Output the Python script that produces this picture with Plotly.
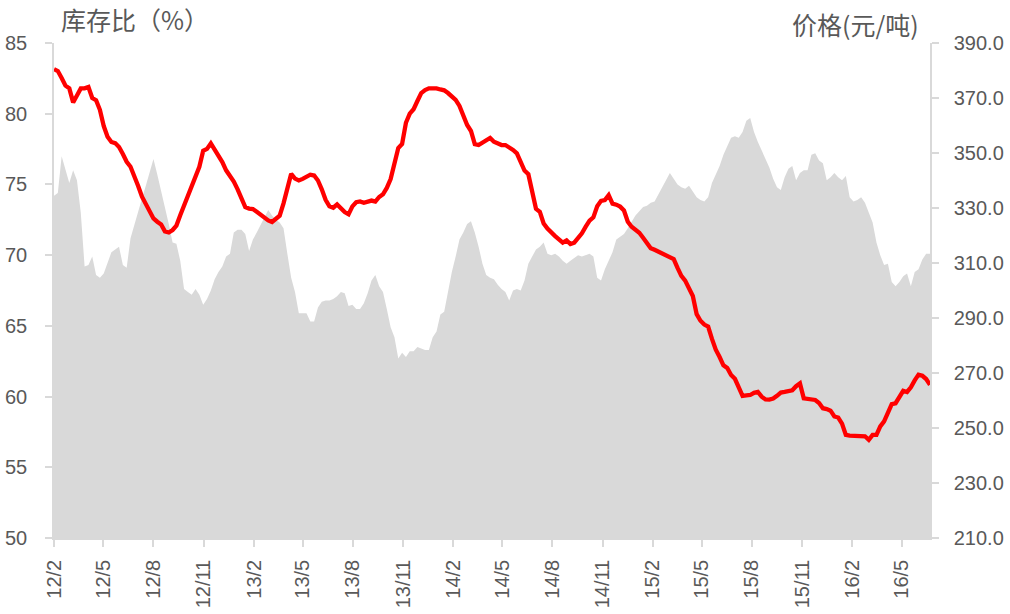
import pandas as pd
import plotly.graph_objects as go

# Weekly observations starting Feb 2012
start_date = "2012-02-01"

inventory_ratio = [
    74.2, 74.4, 77.0, 76.0, 75.1, 76.0, 75.3, 73.0, 69.2, 69.3,
    69.9, 68.6, 68.4, 68.7, 69.4, 70.2, 70.4, 70.6, 69.3, 69.1,
    71.2, 72.2, 73.1, 74.0, 74.9, 75.9, 76.8, 75.7, 74.6, 73.5,
    72.2, 70.9, 70.8, 69.6, 67.6, 67.4, 67.2, 67.6, 67.2, 66.5,
    66.9, 67.5, 68.3, 68.8, 69.2, 69.9, 70.1, 71.6, 71.8, 71.8,
    71.5, 70.3, 71.1, 71.6, 72.1, 72.7, 73.2, 72.8, 72.5, 72.3,
    71.9, 70.1, 68.4, 67.4, 65.9, 65.9, 65.9, 65.3, 65.3, 66.3,
    66.7, 66.8, 66.8, 66.9, 67.1, 67.4, 67.3, 66.4, 66.5, 66.2,
    66.2, 66.6, 67.3, 68.2, 68.6, 67.8, 67.4, 66.2, 64.9, 64.2,
    62.7, 63.1, 62.8, 63.2, 63.2, 63.5, 63.4, 63.3, 63.3, 64.2,
    64.6, 65.8, 66.0, 67.5, 68.8, 69.9, 71.1, 71.6, 72.2, 72.4,
    71.6, 70.6, 69.4, 68.6, 68.4, 68.3, 67.9, 67.6, 67.4, 66.8,
    67.5, 67.6, 67.5, 68.2, 69.4, 69.9, 70.4, 70.6, 70.9, 70.1,
    70.0, 70.1, 69.9, 69.6, 69.4, 69.6, 69.8, 70.0, 69.9, 70.0,
    70.1, 69.9, 68.4, 68.2, 69.0, 69.6, 70.2, 71.1, 71.3, 71.5,
    71.9, 72.4, 72.8, 73.1, 73.4, 73.5, 73.7, 73.8, 74.3, 74.8,
    75.3, 75.8, 75.4, 75.0, 74.8, 74.7, 74.9, 74.5, 74.1, 73.9,
    73.8, 74.1, 75.1, 75.7, 76.3, 77.1, 77.7, 78.3, 78.4, 78.3,
    78.7, 79.5, 79.7, 78.7, 78.0, 77.4, 76.8, 76.2, 75.4, 74.8,
    74.6, 75.5, 76.1, 76.3, 75.3, 75.8, 76.0, 76.0, 77.1, 77.2,
    76.7, 76.5, 75.3, 75.5, 75.8, 75.5, 75.3, 75.6, 74.1, 73.8,
    73.9, 74.1, 73.7, 73.0, 72.3, 70.9, 70.0, 69.3, 69.4, 68.1,
    67.8, 68.1, 68.5, 68.7, 67.8, 68.8, 69.0, 69.7, 70.1, 70.1,
]

price = [
    380.5, 379.8, 377.3, 374.5, 373.5, 368.4, 370.9, 373.5, 373.5, 374.0,
    370.0, 369.2, 365.7, 359.8, 355.9, 354.0, 353.6, 352.2, 349.6, 346.8,
    345.0, 341.9, 338.0, 334.1, 331.6, 328.6, 326.2, 325.0, 324.0, 321.5,
    321.1, 322.0, 323.6, 327.4, 330.9, 333.7, 337.0, 340.7, 345.0, 350.8,
    351.5, 353.5, 351.3, 349.1, 346.7, 343.7, 341.8, 339.6, 336.8, 333.8,
    330.3, 329.8, 329.6, 328.6, 327.5, 326.4, 325.5, 324.9, 325.9, 327.2,
    331.7, 337.7, 342.4, 340.7, 340.0, 340.6, 341.3, 342.1, 341.8, 340.0,
    336.8, 333.0, 330.6, 330.1, 331.3, 329.6, 328.5, 327.7, 330.6, 332.1,
    332.4, 331.9, 332.4, 332.7, 332.3, 334.0, 335.0, 337.3, 340.5, 346.7,
    351.8, 353.3, 361.0, 364.3, 365.9, 368.9, 371.8, 372.9, 373.5, 373.5,
    373.5, 373.1, 372.8, 371.8, 370.6, 369.3, 367.1, 363.3, 360.2, 358.0,
    353.2, 352.9, 353.8, 354.3, 355.5, 354.1, 353.3, 352.9, 352.9, 352.2,
    351.1, 349.9, 346.3, 343.6, 342.3, 335.6, 329.7, 328.6, 324.4, 322.5,
    320.9, 319.8, 318.6, 317.4, 318.2, 316.9, 317.4, 318.9, 320.8, 323.2,
    325.4, 326.6, 330.6, 332.6, 332.9, 334.7, 331.6, 331.2, 330.5, 329.1,
    325.0, 323.2, 322.1, 321.0, 319.2, 317.2, 315.4, 314.8, 314.2, 313.5,
    312.8, 312.1, 311.4, 308.2, 305.3, 303.6, 300.4, 298.0, 291.4, 289.0,
    287.6, 286.9, 282.4, 278.5, 275.8, 272.8, 271.8, 269.3, 267.9, 264.5,
    261.7, 261.9, 262.0, 262.8, 263.1, 261.4, 260.4, 260.3, 260.7, 261.7,
    262.9, 263.1, 263.4, 263.7, 265.2, 266.2, 260.8, 260.6, 260.3, 260.2,
    259.1, 257.2, 256.9, 256.3, 254.2, 253.8, 251.6, 247.5, 247.2, 247.2,
    247.2, 247.2, 247.0, 245.7, 247.5, 247.5, 250.6, 252.4, 255.3, 258.7,
    259.0, 261.2, 263.5, 263.1, 264.8, 267.3, 269.4, 269.0, 267.8, 265.7,
]

tick_dates = [
    "2012-02-01", "2012-05-01", "2012-08-01", "2012-11-01",
    "2013-02-01", "2013-05-01", "2013-08-01", "2013-11-01",
    "2014-02-01", "2014-05-01", "2014-08-01", "2014-11-01",
    "2015-02-01", "2015-05-01", "2015-08-01", "2015-11-01",
    "2016-02-01", "2016-05-01",
]
tick_labels = [
    "12/2", "12/5", "12/8", "12/11",
    "13/2", "13/5", "13/8", "13/11",
    "14/2", "14/5", "14/8", "14/11",
    "15/2", "15/5", "15/8", "15/11",
    "16/2", "16/5",
]
left_ticks = [50, 55, 60, 65, 70, 75, 80, 85]
right_ticks = [210, 230, 250, 270, 290, 310, 330, 350, 370, 390]

left_title = "库存比（%）"
right_title = "价格(元/吨)"

dates = pd.date_range(start=start_date, periods=len(price), freq="7D")

GRAY_TXT = "#595959"
AXIS_CLR = "#D9D9D9"
NUM_FONT = "Liberation Sans, Arial, sans-serif"
CJK_FONT = "Noto Sans CJK SC, sans-serif"

fig = go.Figure()
fig.add_trace(go.Scatter(
    x=dates, y=inventory_ratio, mode="lines", fill="tozeroy",
    fillcolor="#D9D9D9", line=dict(width=0, color="#D9D9D9"),
    yaxis="y", showlegend=False, hoverinfo="skip",
))
fig.add_trace(go.Scatter(
    x=dates, y=price, mode="lines",
    line=dict(width=4.3, color="#FF0000"),
    yaxis="y2", showlegend=False,
))

fig.update_layout(
    width=1010, height=614,
    margin=dict(l=54, r=80, t=43, b=76),
    paper_bgcolor="white", plot_bgcolor="white",
    xaxis=dict(
        type="date", automargin=False,
        range=[dates[0], dates[-1]],
        tickmode="array", tickvals=tick_dates, ticktext=tick_labels,
        tickangle=-90, ticks="outside", ticklen=7, tickcolor=AXIS_CLR,
        tickwidth=1.5,
        showline=True, linecolor=AXIS_CLR, linewidth=1.5,
        showgrid=False, zeroline=False,
        tickfont=dict(family=NUM_FONT, size=20, color=GRAY_TXT),
        ticklabelstandoff=5,
    ),
    yaxis=dict(
        range=[50, 85], tickmode="array", tickvals=left_ticks,
        automargin=False,
        ticks="outside", ticklen=7, tickcolor=AXIS_CLR, tickwidth=1.5,
        showline=True, linecolor=AXIS_CLR, linewidth=1.5,
        showgrid=False, zeroline=False,
        tickfont=dict(family=NUM_FONT, size=20, color=GRAY_TXT),
        ticklabelstandoff=14,
    ),
    yaxis2=dict(
        range=[210, 390], overlaying="y", side="right",
        automargin=False,
        tickmode="array", tickvals=right_ticks, tickformat=".1f",
        ticks="outside", ticklen=7, tickcolor=AXIS_CLR, tickwidth=1.5,
        showline=True, linecolor=AXIS_CLR, linewidth=1.5,
        showgrid=False, zeroline=False,
        tickfont=dict(family=NUM_FONT, size=20, color=GRAY_TXT),
        ticklabelstandoff=11,
    ),
    annotations=[
        dict(text=left_title, xref="paper", yref="paper",
             x=0.006, y=1.048, xanchor="left", yanchor="middle",
             showarrow=False,
             font=dict(family=CJK_FONT, size=25, color=GRAY_TXT)),
        dict(text=right_title, xref="paper", yref="paper",
             x=0.99, y=1.038, xanchor="right", yanchor="middle",
             showarrow=False,
             font=dict(family=CJK_FONT, size=25, color=GRAY_TXT)),
    ],
)

fig.write_html(
    "out.html",
    config={"displayModeBar": False},
    post_script="document.body.style.margin='0';document.body.style.padding='0';",
)
